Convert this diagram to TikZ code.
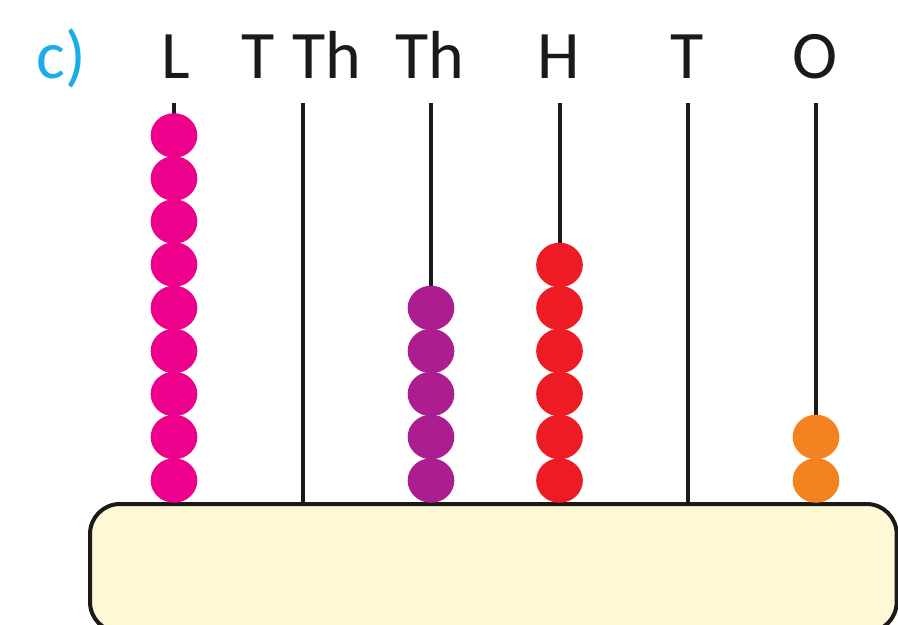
\documentclass[tikz,border=0pt]{standalone}
\usepackage{fontspec}
\setmainfont{Carlito}
\usetikzlibrary{shapes.geometric}
\definecolor{basefill}{HTML}{FFF8D6}
\definecolor{cyanlab}{HTML}{1CADE8}
\definecolor{beadL}{HTML}{EC008C}
\definecolor{beadTh}{HTML}{AC1E8F}
\definecolor{beadH}{HTML}{ED1C24}
\definecolor{beadO}{HTML}{F58220}
\definecolor{inkk}{HTML}{1A1A1A}
\tikzset{
  x=0.75pt,y=-0.75pt,
  lab/.style={anchor=base,inner sep=0pt,font=\fontsize{51}{51}\selectfont,text=inkk},
  rod/.style={draw=inkk,line width=3pt},
  bead/.style={ellipse,inner sep=0pt,minimum width=35pt,minimum height=33.4pt,fill=#1},
  basebox/.style={draw=inkk,fill=basefill,line width=3pt,rounded corners=22.5pt,inner sep=0pt,outer sep=0pt,
    minimum width=605pt,minimum height=96pt,anchor=north west},
}
\begin{document}
\begin{tikzpicture}
\clip (0,0) rectangle (898,624);
\fill[white] (0,0) rectangle (898,624);
% labels
\node[lab,text=cyanlab] (lc) at (61,79) {c)};
\node[lab] (l1) at (176,79) {L};
\node[lab] (l2) at (258,79) {T};
\node[lab] (l3) at (327,79) {Th};
\node[lab] (l4) at (430,79) {Th};
\node[lab] (l5) at (559,79) {H};
\node[lab] (l6) at (687,79) {T};
\node[lab] (l7) at (815,79) {O};
% base and rods
\node[basebox] (base) at (90,504) {};
\coordinate (r1) at (174,103);
\coordinate (r2) at (302.5,103);
\coordinate (r3) at (431,103);
\coordinate (r4) at (559.5,103);
\coordinate (r5) at (687.5,103);
\coordinate (r6) at (816,103);
\foreach \r in {r1,r2,r3,r4,r5,r6} \draw[rod] (\r) -- (\r |- base.north);
% beads
\foreach \i/\y in {1/135.5,2/178.5,3/221.5,4/264.5,5/308,6/351,7/394,8/437,9/480.5}
  \node[bead=beadL] (a\i) at (174,\y) {};
\foreach \i/\y in {1/308,2/351,3/394,4/437,5/480.5}
  \node[bead=beadTh] (b\i) at (431,\y) {};
\foreach \i/\y in {1/265,2/308,3/351,4/394,5/437,6/480.5}
  \node[bead=beadH] (c\i) at (559.5,\y) {};
\foreach \i/\y in {1/437,2/480.5}
  \node[bead=beadO] (d\i) at (816,\y) {};
\end{tikzpicture}
\end{document}
